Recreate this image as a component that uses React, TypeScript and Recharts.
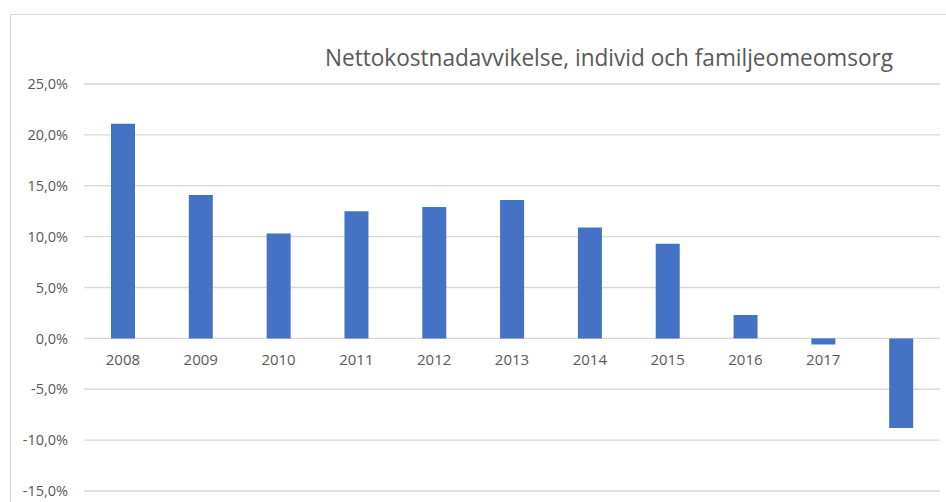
import React from 'react';
import { BarChart, Bar, XAxis, YAxis, CartesianGrid, Customized } from 'recharts';

const years = ['2008', '2009', '2010', '2011', '2012', '2013', '2014', '2015', '2016', '2017', ''];
const values = [21.1, 14.1, 10.3, 12.5, 12.9, 13.6, 10.9, 9.3, 2.3, -0.6, -8.8];
const yTicks = [-15, -10, -5, 0, 5, 10, 15, 20, 25];
const title = 'Nettokostnadavvikelse, individ och familjeomeomsorg';

const data = years.map((y, i) => ({ year: y, value: values[i] }));

const W = 946;
const H = 502;
const M = { top: 84, right: 6, bottom: 0, left: 0 };
const Y_AXIS_W = 84;
const X_AXIS_H = 11;
const YMIN = -15;
const YMAX = 25;
const PLOT_H = H - M.top - M.bottom - X_AXIS_H;
const FONT = '"Open Sans", sans-serif';
const TEXT = '#595959';

const fmt = (v: number) => v.toFixed(1).replace('.', ',') + '%';

const CatTick = (props: any) => {
  const { x, payload } = props;
  const zeroY = M.top + (PLOT_H * (YMAX - 0)) / (YMAX - YMIN);
  return (
    <text x={x} y={zeroY + 27} textAnchor="middle" fill={TEXT} fontSize={15} fontFamily={FONT}>
      {payload.value}
    </text>
  );
};

const Title = () => (
  <text
    x={609}
    y={66}
    textAnchor="middle"
    fill={TEXT}
    fontSize={24}
    fontFamily={FONT}
    textLength={568}
    lengthAdjust="spacingAndGlyphs"
  >
    {title}
  </text>
);

export default function App() {
  return (
    <div style={{ position: 'absolute', left: 0, top: 0, width: W, height: H, background: '#fff' }}>
      <div
        style={{
          position: 'absolute',
          left: 10,
          top: 14,
          right: 0,
          bottom: 0,
          borderLeft: '1px solid #d9d9d9',
          borderTop: '1px solid #d9d9d9',
        }}
      />
      <div style={{ position: 'absolute', left: 0, top: 0 }}>
        <BarChart width={W} height={H} data={data} margin={M} barCategoryGap="34%">
          <CartesianGrid vertical={false} stroke="#d9d9d9" strokeWidth={1.3} />
          <XAxis
            dataKey="year"
            height={X_AXIS_H}
            axisLine={false}
            tickLine={false}
            tick={<CatTick />}
            interval={0}
          />
          <YAxis
            width={Y_AXIS_W}
            domain={[YMIN, YMAX]}
            ticks={yTicks}
            tickFormatter={fmt}
            axisLine={false}
            tickLine={false}
            tickSize={0}
            tickMargin={16}
            tick={{ fill: TEXT, fontSize: 14.5, fontFamily: FONT }}
            interval={0}
          />
          <Bar dataKey="value" fill="#4472C4" barSize={24} isAnimationActive={false} />
          <Customized component={Title} />
        </BarChart>
      </div>
    </div>
  );
}
